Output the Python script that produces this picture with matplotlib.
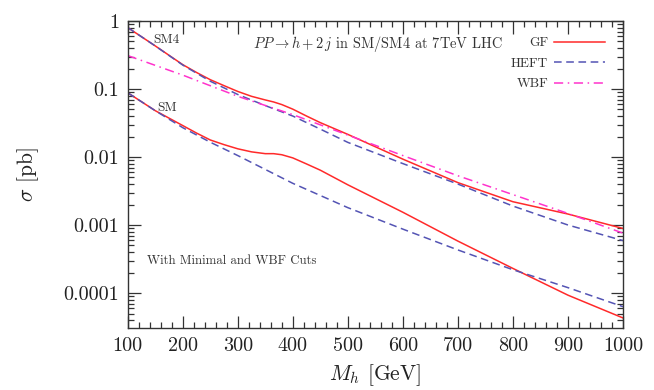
import matplotlib
matplotlib.use("Agg")
import matplotlib.pyplot as plt
from matplotlib.ticker import FixedLocator, LogLocator, NullFormatter, MultipleLocator

plt.rcParams['font.family'] = ['cmr10', 'DejaVu Serif']
plt.rcParams['mathtext.fontset'] = 'cm'
plt.rcParams['axes.formatter.use_mathtext'] = True

# ---- data ----
m_gf = [100, 150, 200, 225, 250, 275, 300, 325, 350, 365, 380, 400, 425, 450, 500,
        600, 700, 800, 900, 1000]
sm4_gf = [0.80, 0.43, 0.228, 0.175, 0.137, 0.112, 0.092, 0.078, 0.069, 0.0645, 0.059,
          0.0505, 0.040, 0.032, 0.0215, 0.0093, 0.0042, 0.0022, 0.00145, 0.00089]
sm_gf = [0.088, 0.048, 0.029, 0.0225, 0.0178, 0.0152, 0.0132, 0.0119, 0.0112, 0.0112,
         0.0108, 0.0097, 0.0079, 0.0064, 0.0039, 0.00154, 0.00058, 0.00023, 0.000093,
         0.000043]

m_heft = [100, 150, 200, 250, 300, 350, 400, 450, 500, 600, 700, 800, 900, 1000]
sm4_heft = [0.80, 0.43, 0.225, 0.13, 0.083, 0.057, 0.040, 0.0257, 0.0164, 0.0080,
            0.0040, 0.0019, 0.0010, 0.00059]
m_heft_sm = [100, 150, 200, 250, 300, 400, 500, 600, 700, 800, 900, 1000]
sm_heft = [0.088, 0.048, 0.027, 0.0165, 0.0105, 0.0041, 0.0018, 0.00087, 0.00043,
           0.00022, 0.00012, 0.000063]

m_wbf = [100, 200, 300, 400, 500, 600, 700, 800, 900, 1000]
wbf = [0.31, 0.16, 0.078, 0.042, 0.021, 0.0105, 0.0053, 0.0028, 0.00148, 0.00076]

x_ticks = [100, 200, 300, 400, 500, 600, 700, 800, 900, 1000]
y_ticks = [1e-4, 1e-3, 1e-2, 1e-1, 1]
y_labels = ['0.0001', '0.001', '0.01', '0.1', '1']

c_red = '#ff2a2a'
c_blue = '#5454b4'
c_mag = '#ff33cc'

fig = plt.figure(figsize=(6.54, 3.90), dpi=100)
ax = fig.add_axes([0.1953, 0.1597, 0.9526 - 0.1953, 0.9462 - 0.1597])

ax.plot(m_gf, sm4_gf, color=c_red, lw=1.1, label='GF')
ax.plot(m_heft, sm4_heft, color=c_blue, lw=1.1, dashes=(5, 3), label='HEFT')
ax.plot(m_wbf, wbf, color=c_mag, lw=1.1, dashes=(6, 3, 1, 3), label='WBF')
ax.plot(m_gf, sm_gf, color=c_red, lw=1.1)
ax.plot(m_heft_sm, sm_heft, color=c_blue, lw=1.1, dashes=(5, 3))

ax.set_yscale('log')
ax.set_xlim(100, 1000)
ax.set_ylim(10 ** -4.51, 1)

ax.xaxis.set_major_locator(FixedLocator(x_ticks))
ax.set_xticklabels([str(v) for v in x_ticks])
ax.xaxis.set_minor_locator(MultipleLocator(20))
ax.yaxis.set_major_locator(FixedLocator(y_ticks))
ax.set_yticklabels(y_labels)
ax.yaxis.set_minor_locator(LogLocator(base=10, subs=range(2, 10), numticks=20))
ax.yaxis.set_minor_formatter(NullFormatter())

ax.tick_params(which='both', direction='in', top=True, right=True, colors='#333333',
               labelcolor='#222222', labelsize=14.5, width=0.9)
ax.tick_params(which='major', length=9, pad=7)
ax.tick_params(which='minor', length=4.5)
ax.tick_params(axis='y', which='major', pad=6)
for s in ax.spines.values():
    s.set_linewidth(1.0)
    s.set_color('#333333')

ax.set_xlabel(r'$M_h$ [GeV]', fontsize=15.5, color='#222222', labelpad=5)
ax.set_ylabel(r'$\sigma$ [pb]', fontsize=15.5, color='#222222', labelpad=16)

ax.text(0.253, 0.925, r'$PP \rightarrow h + 2\,j$ in SM/SM4 at 7TeV LHC',
        transform=ax.transAxes, fontsize=10.4, color='#333333', va='center', ha='left')
ax.text(0.052, 0.938, 'SM4', transform=ax.transAxes, fontsize=9.5, color='#333333',
        va='center', ha='left')
ax.text(0.060, 0.716, 'SM', transform=ax.transAxes, fontsize=9.5, color='#333333',
        va='center', ha='left')
ax.text(0.039, 0.219, 'With Minimal and WBF Cuts', transform=ax.transAxes, fontsize=9.2,
        color='#333333', va='center', ha='left')

leg = ax.legend(loc='upper right', bbox_to_anchor=(0.9637, 0.948), frameon=False,
                markerfirst=False, fontsize=9.6, handlelength=3.85, handletextpad=0.4,
                labelspacing=0.62, borderaxespad=0.0, borderpad=0.0)
for t in leg.get_texts():
    t.set_color('#333333')

fig.savefig('out.png', dpi=100)
